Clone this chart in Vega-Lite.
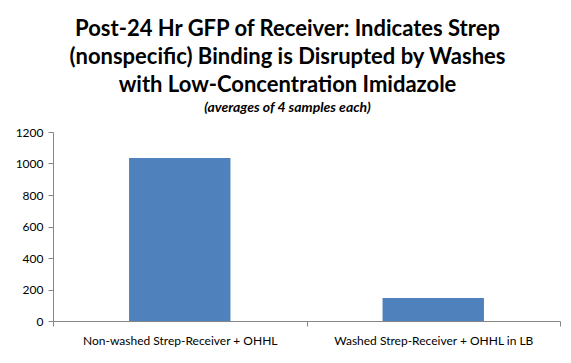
{
  "$schema": "https://vega.github.io/schema/vega-lite/v6.json",
  "width": 507,
  "height": 189,
  "autosize": "none",
  "padding": {"left": 53, "top": 132, "right": 11, "bottom": 42},
  "background": "white",
  "title": {
    "text": ["Post-24 Hr GFP of Receiver: Indicates Strep", "(nonspecific) Binding is Disrupted by Washes", "with Low-Concentration Imidazole"],
    "subtitle": "(averages of 4 samples each)",
    "font": "Lato",
    "fontSize": 22,
    "fontWeight": "bold",
    "color": "#000000",
    "lineHeight": 28,
    "subtitleFont": "Lato",
    "subtitleFontSize": 14,
    "subtitleFontWeight": "bold",
    "subtitleFontStyle": "italic",
    "subtitleColor": "#000000",
    "subtitlePadding": 4,
    "anchor": "middle",
    "frame": "group",
    "dx": -19,
    "offset": 10
  },
  "data": {
    "values": [
      {"group": "Non-washed Strep-Receiver + OHHL", "gfp": 1035},
      {"group": "Washed Strep-Receiver + OHHL in LB", "gfp": 146}
    ]
  },
  "mark": {"type": "bar", "color": "#4F81BD", "width": {"band": 0.4}},
  "encoding": {
    "x": {
      "field": "group",
      "type": "nominal",
      "sort": null,
      "title": null,
      "scale": {"paddingInner": 0, "paddingOuter": 0},
      "axis": {
        "labelAngle": 0,
        "labelFont": "Lato",
        "labelFontSize": 12,
        "labelColor": "#000000",
        "labelPadding": 9,
        "labelLimit": 0,
        "domainColor": "#868686",
        "tickColor": "#868686",
        "tickBand": "extent",
        "tickSize": 5,
        "grid": false
      }
    },
    "y": {
      "field": "gfp",
      "type": "quantitative",
      "title": null,
      "scale": {"domain": [0, 1200], "nice": false},
      "axis": {
        "values": [0, 200, 400, 600, 800, 1000, 1200],
        "format": "d",
        "labelFont": "Lato",
        "labelFontSize": 12,
        "labelColor": "#000000",
        "labelPadding": 5,
        "domainColor": "#868686",
        "tickColor": "#868686",
        "tickSize": 5,
        "grid": false
      }
    }
  },
  "config": {"view": {"stroke": null}}
}
